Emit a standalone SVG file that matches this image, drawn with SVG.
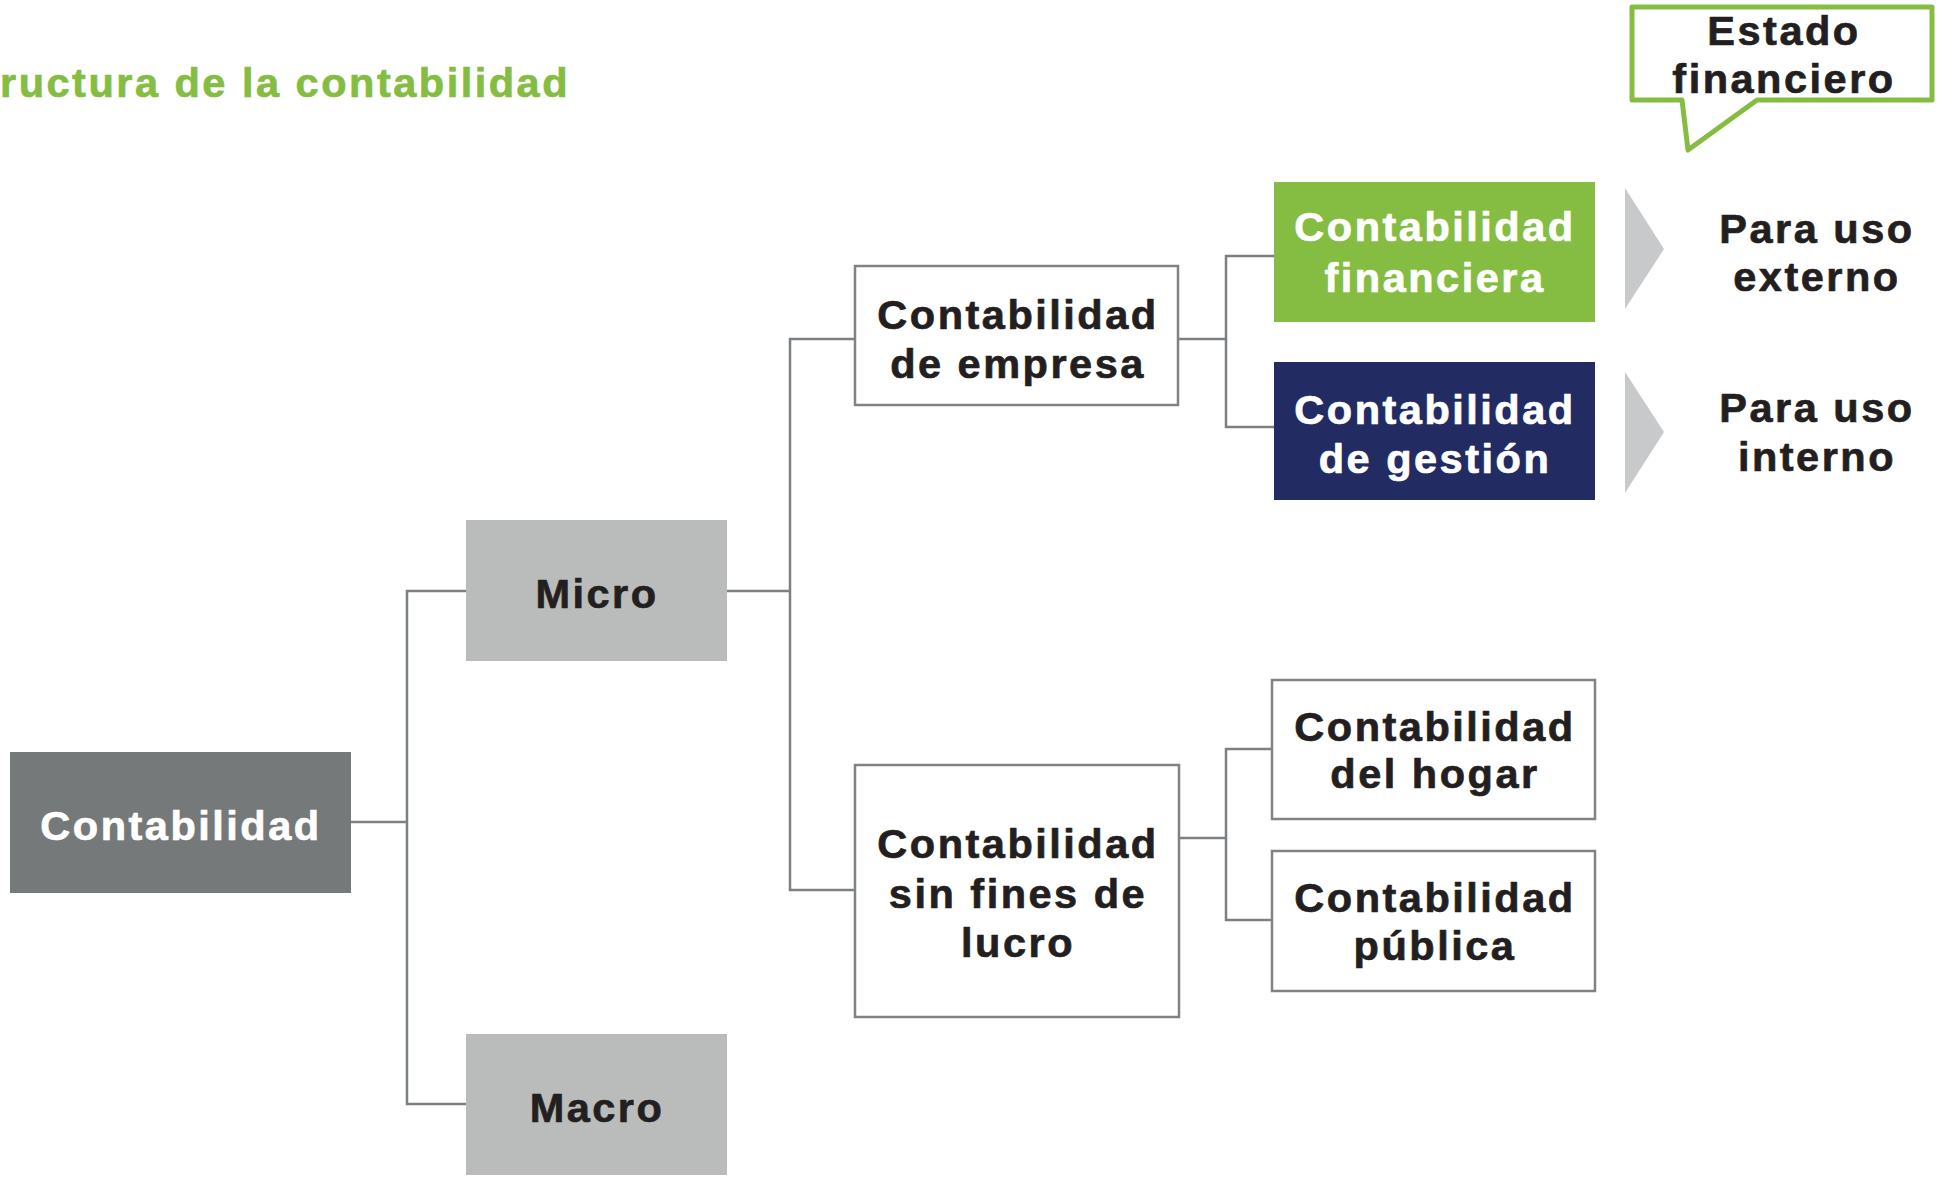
<svg xmlns="http://www.w3.org/2000/svg" width="1942" height="1177" viewBox="0 0 1942 1177">
<style>
  text { font-family: "Liberation Sans", Arial, sans-serif; font-weight: bold; font-size: 41.5px; letter-spacing: 2.5px; text-anchor: middle; stroke-width: 0.7px; stroke-linejoin: round; }
  .dark { fill: #231f20; stroke: #231f20; }
  .white { fill: #ffffff; stroke: #ffffff; }
  .title { fill: #84bd41; stroke: #84bd41; text-anchor: start; }
  .box { fill: #ffffff; stroke: #808285; stroke-width: 2.5; }
  .conn { fill: none; stroke: #7d8083; stroke-width: 2.5; }
  .chev { fill: #c8c9cb; }
</style>
<rect x="0" y="0" width="1942" height="1177" fill="#ffffff"/>
<text class="title" x="0" y="97">ructura de la contabilidad</text>

<g id="connectors">
  <path class="conn" d="M350,822 H407 M466,591 H407 V1104 H466"/>
  <path class="conn" d="M727,591 H790 M855,339 H790 V890 H855"/>
  <path class="conn" d="M1178,339 H1226 M1274,256 H1226 V427 H1274"/>
  <path class="conn" d="M1179,838 H1226 M1272,749 H1226 V920 H1272"/>
</g>

<g id="contabilidad">
  <rect x="10" y="752" width="341" height="141" fill="#76797a"/>
  <text class="white" x="181" y="840">Contabilidad</text>
</g>
<g id="micro">
  <rect x="466" y="520" width="261" height="141" fill="#babcbb"/>
  <text class="dark" x="597" y="608">Micro</text>
</g>
<g id="macro">
  <rect x="466" y="1034" width="261" height="141" fill="#babcbb"/>
  <text class="dark" x="597" y="1122">Macro</text>
</g>
<g id="empresa">
  <rect class="box" x="855" y="266" width="323" height="139"/>
  <text class="dark" x="1018" y="329">Contabilidad</text>
  <text class="dark" x="1018" y="378">de empresa</text>
</g>
<g id="sinfines">
  <rect class="box" x="855" y="765" width="324" height="252"/>
  <text class="dark" x="1018" y="858">Contabilidad</text>
  <text class="dark" x="1018" y="908">sin fines de</text>
  <text class="dark" x="1018" y="957">lucro</text>
</g>
<g id="financiera">
  <rect x="1274" y="182" width="321" height="140" fill="#84bd41"/>
  <text class="white" x="1435" y="241">Contabilidad</text>
  <text class="white" x="1435" y="292">financiera</text>
</g>
<g id="gestion">
  <rect x="1274" y="362" width="321" height="138" fill="#222c63"/>
  <text class="white" x="1435" y="424">Contabilidad</text>
  <text class="white" x="1435" y="473">de gestión</text>
</g>
<g id="hogar">
  <rect class="box" x="1272" y="680" width="323" height="139"/>
  <text class="dark" x="1435" y="741">Contabilidad</text>
  <text class="dark" x="1435" y="788">del hogar</text>
</g>
<g id="publica">
  <rect class="box" x="1272" y="851" width="323" height="140"/>
  <text class="dark" x="1435" y="912">Contabilidad</text>
  <text class="dark" x="1435" y="960">pública</text>
</g>
<g id="chevron-externo">
  <polygon class="chev" points="1625,188 1664,249 1625,309"/>
</g>
<g id="chevron-interno">
  <polygon class="chev" points="1625,372 1664,432 1625,493"/>
</g>
<g id="externo">
  <text class="dark" x="1817" y="243">Para uso</text>
  <text class="dark" x="1817" y="291">externo</text>
</g>
<g id="interno">
  <text class="dark" x="1817" y="422">Para uso</text>
  <text class="dark" x="1817" y="471">interno</text>
</g>
<g id="estado-financiero">
  <path d="M1632,7 H1932 V100 H1757 L1688,150 L1682,100 H1632 Z" fill="#ffffff" stroke="#84bd41" stroke-width="5" stroke-linejoin="round"/>
  <text class="dark" x="1784" y="45">Estado</text>
  <text class="dark" x="1784" y="93">financiero</text>
</g>
</svg>
